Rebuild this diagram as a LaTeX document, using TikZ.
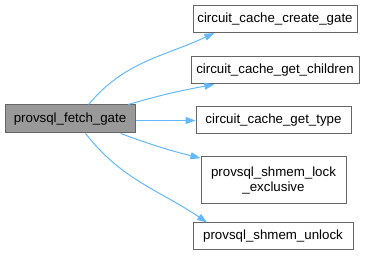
\documentclass[tikz,border=0pt]{standalone}
\usepackage{fontspec}
\setmainfont{Liberation Sans}
\usepackage{xcolor}
\usepackage{tikz}
\usetikzlibrary{arrows.meta}
\definecolor{nodeedge}{HTML}{666666}
\definecolor{nodegray}{HTML}{999999}
\definecolor{callblue}{HTML}{63B8FF}

\begin{document}
\begin{tikzpicture}[
  x=1pt, y=-1pt,
  fnbox/.style={
    rectangle, draw=nodeedge, fill=white, line width=1pt,
    minimum height=27pt, inner sep=2pt, align=center,
    font=\fontsize{13.3}{15.5}\selectfont,
  },
  callee/.style={
    draw=callblue, line width=1pt,
    -{Triangle[length=10pt,width=7pt]},
  },
]
\useasboundingbox (0,0) rectangle (365,256);

% Caller
\node[fnbox, fill=nodegray, minimum width=130pt, minimum height=28pt] (fetch) at (70,119) {provsql\_fetch\_gate};

% Callees
\node[fnbox, minimum width=164pt] (create) at (275,19) {circuit\_cache\_create\_gate};
\node[fnbox, minimum width=168pt] (children) at (275,70.5) {circuit\_cache\_get\_children};
\node[fnbox, minimum width=155pt] (gettype) at (273.5,120.5) {circuit\_cache\_get\_type};
\node[fnbox, minimum width=145pt, minimum height=47pt] (lockx) at (273.5,180.5) {provsql\_shmem\_lock\\\_exclusive};
\node[fnbox, minimum width=160pt] (unlock) at (273,236.5) {provsql\_shmem\_unlock};

% Calls
\draw[callee] (fetch.38) to[out=50, in=205] (create.193);
\draw[callee] (fetch.14) to[bend left=3] (children.193);
\draw[callee] (fetch.east |- gettype.west) -- (gettype.west);
\draw[callee] (fetch.-16) to[bend right=3] (lockx.163);
\draw[callee] (fetch.-43) to[out=-52, in=146] (unlock.168);

\end{tikzpicture}
\end{document}
